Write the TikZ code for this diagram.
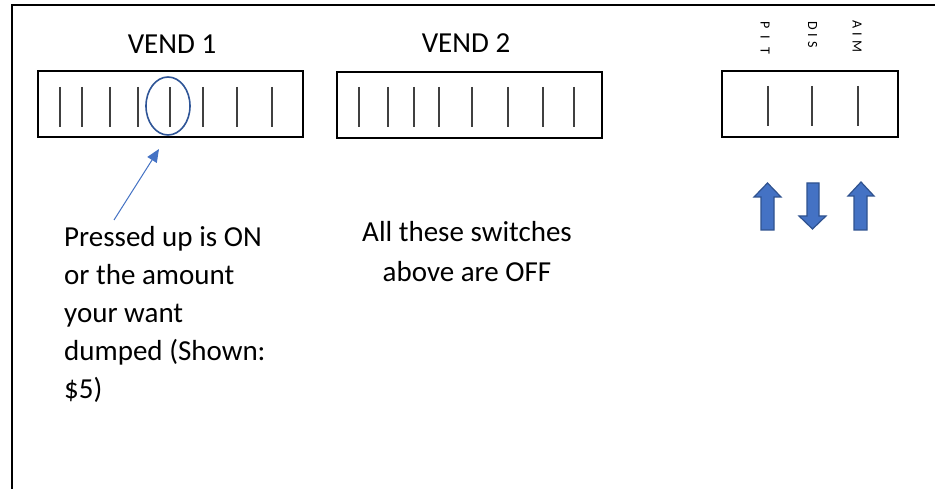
\documentclass[tikz,border=0pt]{standalone}
\usepackage{fontspec}
\setmainfont{Carlito}
\usetikzlibrary{shapes.geometric,arrows.meta}
\definecolor{arrowfill}{HTML}{4472C4}
\definecolor{arrowedge}{HTML}{2F528F}
\definecolor{ringblue}{HTML}{2F5597}
\definecolor{switchgray}{HTML}{404040}
\tikzset{
  frame/.style={draw=black, line width=2.4pt},
  switchbox/.style={draw=black, line width=2.2pt, inner sep=0pt, outer sep=0pt},
  switchline/.style={draw=switchgray, line width=1.1pt},
  lbl/.style={inner sep=0pt, font=\fontsize{29}{38}\selectfont},
  note/.style={inner sep=0pt, font=\fontsize{29}{38}\selectfont},
  notec/.style={inner sep=0pt, font=\fontsize{29}{40}\selectfont},
  vlbl/.style={inner sep=0pt, rotate=-90, anchor=west, font=\fontsize{14}{16}\selectfont},
  ring/.style={ellipse, draw=ringblue, line width=1.6pt, inner sep=0pt, minimum width=44pt, minimum height=58pt},
  pointer/.style={draw=arrowfill, line width=1pt, -{Triangle[length=13pt,width=11pt]}},
  blockarrow/.style={fill=arrowfill, draw=arrowedge, line width=1.2pt, line join=miter}
}
\begin{document}
\begin{tikzpicture}[x=1pt,y=-1pt]
\useasboundingbox (0,0) rectangle (935,489);
\fill[white] (0,0) rectangle (935,489);
% frame
\draw[frame] (935,5) -- (12,5) -- (12,489);
% titles
\node[lbl, anchor=base] (t1) at (172,54) {VEND 1};
\node[lbl, anchor=base] (t2) at (466,53) {VEND 2};
% vertical labels
\node[vlbl] (pit) at (765,21) {P\hspace{7pt}I\hspace{9pt}T};
\node[vlbl] (dis) at (812.5,21) {D\hspace{4pt}I\hspace{4pt}S};
\node[vlbl] (aim) at (857,20) {A\hspace{4pt}I\hspace{5pt}M};
% boxes
\node[switchbox, minimum width=265pt, minimum height=66pt] (v1) at (170.5,104) {};
\node[switchbox, minimum width=265pt, minimum height=66pt] (v2) at (469.5,105) {};
\node[switchbox, minimum width=176pt, minimum height=66pt] (v3) at (810,104) {};
% switches
\foreach \x in {60,82,110,138,170,203,237,272} \draw[switchline] (\x,87) -- (\x,127);
\foreach \x in {359,388,414,439,472,508,543,574} \draw[switchline] (\x,87) -- (\x,127);
\foreach \x in {768,812,858} \draw[switchline] (\x,86) -- (\x,126);
% selection ring
\node[ring] (sel) at (168,106) {};
% pointer
\coordinate (p0) at (114,220);
\coordinate (p1) at (159,149);
\draw[pointer] (p0) -- (p1);
% notes (base anchor = last line)
\node[note, anchor=base west, align=left] (n1) at (64,398) {Pressed up is ON\\or the amount\\your want\\dumped (Shown:\\\$5)};
\node[notec, anchor=base, align=center] (n2) at (467,282) {All these switches\\above are OFF};
% block arrows
\draw[blockarrow] (761,230) -- (761,197) -- (754,197) -- (767.5,183) -- (781,197) -- (774,197) -- (774,230) -- cycle;
\draw[blockarrow] (807,183) -- (807,216) -- (799,216) -- (812.5,229) -- (826,216) -- (819,216) -- (819,183) -- cycle;
\draw[blockarrow] (854,230) -- (854,196) -- (848,196) -- (861,182) -- (874,196) -- (867,196) -- (867,230) -- cycle;
\end{tikzpicture}
\end{document}
